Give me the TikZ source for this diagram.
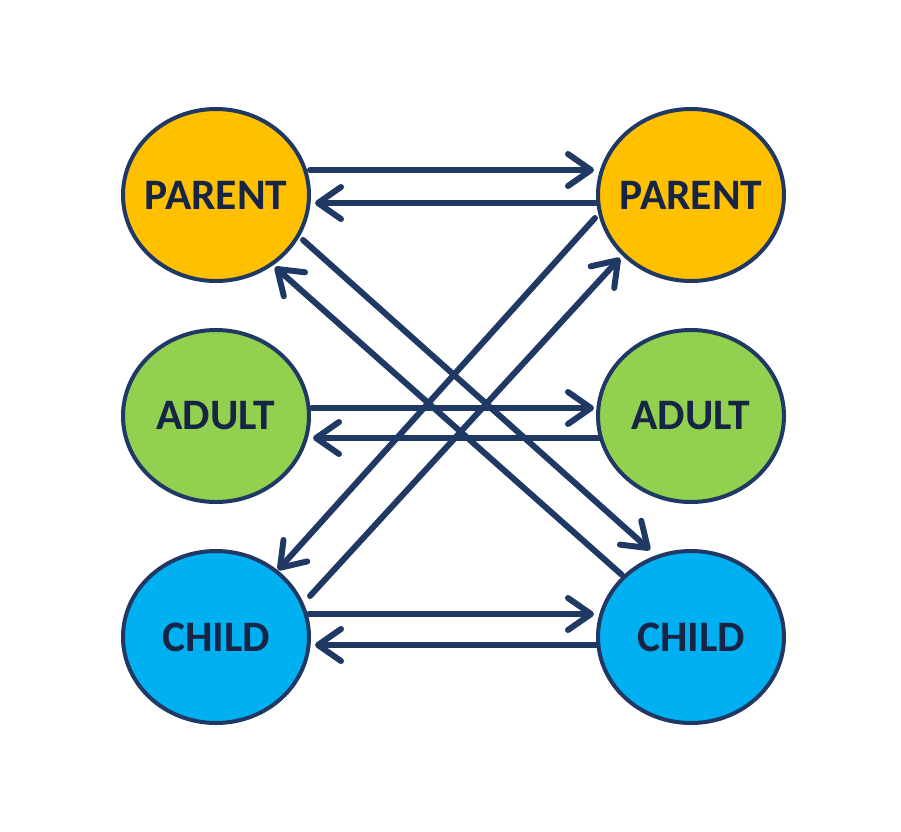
\documentclass[tikz,border=0pt]{standalone}
\usepackage{fontspec}
\setmainfont{Carlito}
\usetikzlibrary{arrows.meta,shapes.geometric,calc}
\definecolor{navy}{RGB}{31,56,100}
\definecolor{txt}{RGB}{22,36,70}
\definecolor{pyellow}{RGB}{255,192,0}
\definecolor{pgreen}{RGB}{146,208,80}
\definecolor{pblue}{RGB}{0,176,240}
\newcommand{\zw}[1]{\makebox[0pt]{#1}}
\tikzset{
  bub/.style={ellipse, draw=navy, line width=4pt, minimum width=186pt, minimum height=172pt,
    inner sep=0pt, outer sep=0pt, font=\fontsize{43.5}{43.5}\selectfont\bfseries, text=txt},
  arr/.style={draw=navy, line width=6pt, line cap=round,
    -{Straight Barb[length=23pt,width=32pt,line cap=round,line join=round]}}
}
\begin{document}
\begin{tikzpicture}[x=1pt,y=-1pt]
\useasboundingbox (0,0) rectangle (901,831);
\node[bub, fill=pyellow] (lp) at (216,195) {\zw{PARENT}};
\node[bub, fill=pyellow] (rp) at (691,195) {\zw{PARENT}};
\node[bub, fill=pgreen] (la) at (216,416) {\zw{ADULT}};
\node[bub, fill=pgreen] (ra) at (691,416) {\zw{ADULT}};
\node[bub, fill=pblue] (lc) at (216,637) {\zw{CHILD}};
\node[bub, fill=pblue] (rc) at (691,637) {\zw{CHILD}};
% horizontal
\draw[arr] ($(lp)+(94,-25)$) -- ($(rp)+(-97,-25)$);
\draw[arr] ($(rp)+(-95,8)$) -- ($(lp)+(99,8)$);
\draw[arr] ($(la)+(96,-8)$) -- ($(ra)+(-97,-8)$);
\draw[arr] ($(ra)+(-92,22)$) -- ($(la)+(97,22)$);
\draw[arr] ($(lc)+(93,-23)$) -- ($(rc)+(-97,-23)$);
\draw[arr] ($(rc)+(-95,8)$) -- ($(lc)+(99,8)$);
% diagonals
\draw[arr] ($(lp)+(87,45)$) -- ($(rc)+(-41,-87)$);
\draw[arr] ($(rc)+(-69,-62)$) -- ($(lp)+(59,72)$);
\draw[arr] ($(rp)+(-96,23)$) -- ($(lc)+(62,-67)$);
\draw[arr] ($(lc)+(94,-41)$) -- ($(rp)+(-71,63)$);
\end{tikzpicture}
\end{document}
